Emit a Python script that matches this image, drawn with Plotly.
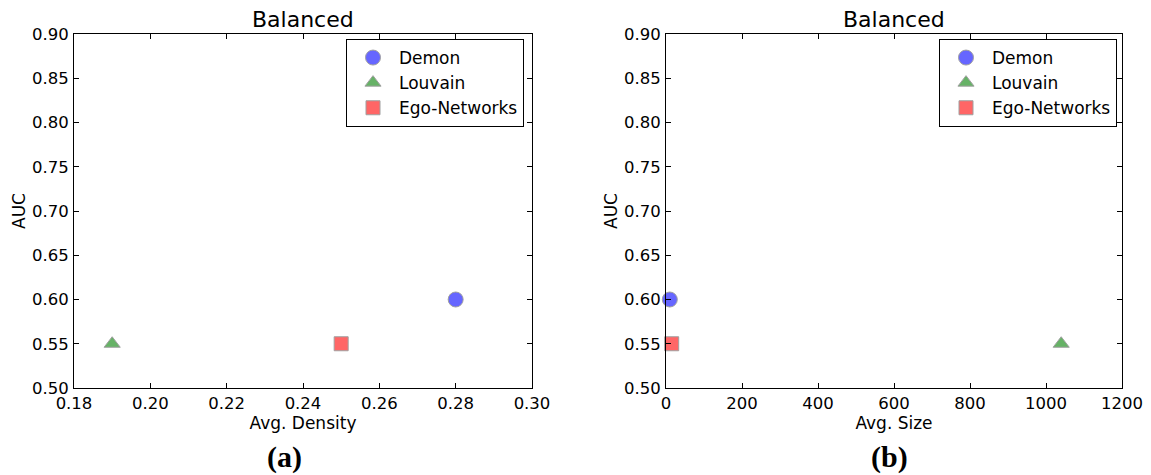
import plotly.graph_objects as go

# ---- data ----
methods = ["Demon", "Louvain", "Ego-Networks"]
density = [0.28, 0.19, 0.25]
size = [10, 1040, 15]
auc = [0.60, 0.55, 0.55]

yticks = [0.50, 0.55, 0.60, 0.65, 0.70, 0.75, 0.80, 0.85, 0.90]
xticks_a = [0.18, 0.20, 0.22, 0.24, 0.26, 0.28, 0.30]
xticks_b = [0, 200, 400, 600, 800, 1000, 1200]

colors = ["#6666ff", "#66b266", "#ff6666"]
symbols = ["circle", "triangle-up", "square"]
msizes = [15, 14, 14]

W, H = 1151, 475
FONT = "DejaVu Sans"

fig = go.Figure()

for i, m in enumerate(methods):
    fig.add_trace(go.Scatter(
        x=[density[i]], y=[auc[i]], mode="markers", name=m,
        marker=dict(color=colors[i], symbol=symbols[i], size=msizes[i],
                    line=dict(color="#a0a0a0", width=1)),
        xaxis="x", yaxis="y", legend="legend"))
for i, m in enumerate(methods):
    fig.add_trace(go.Scatter(
        x=[size[i]], y=[auc[i]], mode="markers", name=m,
        marker=dict(color=colors[i], symbol=symbols[i], size=msizes[i],
                    line=dict(color="#a0a0a0", width=1)),
        xaxis="x2", yaxis="y2", legend="legend2", cliponaxis=False))

ydom = [1 - 388 / H, 1 - 34 / H]
xdom1 = [74 / W, 532 / W]
xdom2 = [666 / W, 1122 / W]

axis_common = dict(
    showline=True, linecolor="black", linewidth=1, mirror="ticks",
    ticks="inside", ticklen=5, tickcolor="black", tickwidth=1,
    showgrid=False, zeroline=False, automargin=False,
    tickfont=dict(family=FONT, size=16.5, color="black"),
)

yaxis_common = dict(axis_common, range=[0.50, 0.90], tickvals=yticks,
                    tickformat=".2f", ticklabelstandoff=1,
                    title=dict(text="AUC", font=dict(family=FONT, size=17, color="black"),
                               standoff=2))

legend_common = dict(xanchor="right", yanchor="top",
                     bordercolor="black", borderwidth=1, bgcolor="white",
                     font=dict(family=FONT, size=17, color="black"),
                     tracegroupgap=0, itemwidth=42)

fig.update_layout(
    width=W, height=H,
    margin=dict(l=0, r=0, t=0, b=0, autoexpand=False),
    paper_bgcolor="white", plot_bgcolor="white",
    showlegend=True,
    xaxis=dict(axis_common, domain=xdom1, anchor="y", range=[0.18, 0.30],
               tickvals=xticks_a, tickformat=".2f", ticklabelstandoff=0,
               title=dict(text="Avg. Density", font=dict(family=FONT, size=17, color="black"),
                          standoff=4)),
    yaxis=dict(yaxis_common, domain=ydom, anchor="x"),
    xaxis2=dict(axis_common, domain=xdom2, anchor="y2", range=[0, 1200],
                tickvals=xticks_b, ticklabelstandoff=0,
                title=dict(text="Avg. Size", font=dict(family=FONT, size=17, color="black"),
                           standoff=4)),
    yaxis2=dict(yaxis_common, domain=ydom, anchor="x2"),
    legend=dict(legend_common, x=524 / W, y=1 - 39 / H),
    legend2=dict(legend_common, x=1117 / W, y=1 - 39 / H),
    annotations=[
        dict(text="Balanced", x=(xdom1[0] + xdom1[1]) / 2, y=1 - 19 / H, xref="paper", yref="paper",
             xanchor="center", yanchor="middle",
             showarrow=False, font=dict(family=FONT, size=22, color="black")),
        dict(text="Balanced", x=(xdom2[0] + xdom2[1]) / 2, y=1 - 19 / H, xref="paper", yref="paper",
             xanchor="center", yanchor="middle",
             showarrow=False, font=dict(family=FONT, size=22, color="black")),
        dict(text="<b>(a)</b>", x=284 / W, y=1 - 457 / H, xref="paper", yref="paper",
             xanchor="center", yanchor="middle",
             showarrow=False, font=dict(family="Liberation Serif", size=30, color="black")),
        dict(text="<b>(b)</b>", x=889 / W, y=1 - 457 / H, xref="paper", yref="paper",
             xanchor="center", yanchor="middle",
             showarrow=False, font=dict(family="Liberation Serif", size=30, color="black")),
    ],
)

fig.write_html("out.html")
